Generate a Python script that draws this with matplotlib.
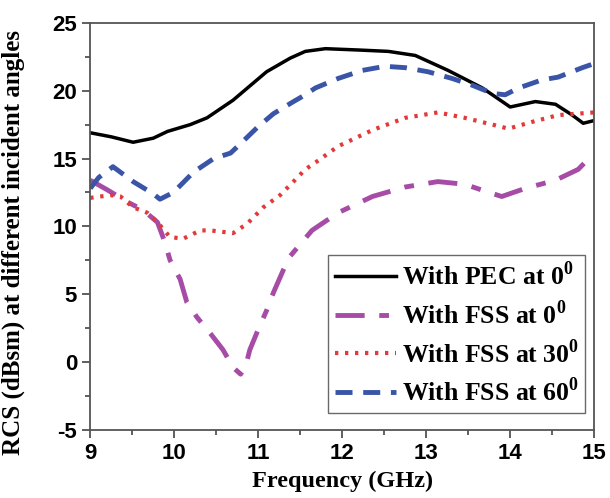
import numpy as np
import matplotlib.pyplot as plt
from matplotlib.ticker import MultipleLocator

plt.rcParams['mathtext.fontset'] = 'custom'
plt.rcParams['mathtext.bf'] = 'Liberation Serif:bold'
plt.rcParams['mathtext.rm'] = 'Liberation Serif:bold'
plt.rcParams['axes.unicode_minus'] = False

# RCS curves read per series (frequency in GHz, RCS in dBsm)
f_pec = [9.0, 9.25, 9.51, 9.75, 9.92, 10.19, 10.39, 10.7, 11.1, 11.38, 11.56, 11.8, 12.2, 12.55,
         12.87, 13.26, 13.67, 14.0, 14.3, 14.54, 14.74, 14.87, 15.0]
rcs_pec = [16.9, 16.6, 16.2, 16.5, 17.0, 17.5, 18.0, 19.3, 21.4, 22.4, 22.9, 23.1, 23.0, 22.9,
           22.6, 21.5, 20.2, 18.8, 19.2, 19.0, 18.2, 17.6, 17.8]

f_fss0 = [9.0, 9.2, 9.44, 9.63, 9.8, 9.89, 9.95, 10.07, 10.15, 10.27, 10.43, 10.58, 10.7, 10.79,
          10.85, 10.9, 11.0, 11.1, 11.18, 11.3, 11.38, 11.64, 11.95, 12.36, 12.75, 13.14, 13.46,
          13.7, 13.9, 14.18, 14.54, 14.81, 15.0]
rcs_fss0 = [13.4, 12.7, 11.8, 11.2, 10.3, 8.8, 7.5, 6.1, 4.4, 3.3, 2.1, 0.9, -0.4, -0.9,
            -0.3, 0.9, 2.4, 3.8, 5.1, 6.8, 7.8, 9.7, 11.0, 12.2, 12.9, 13.3, 13.1,
            12.6, 12.2, 12.8, 13.4, 14.2, 15.4]

f_fss30 = [9.0, 9.24, 9.36, 9.51, 9.68, 9.8, 9.95, 10.11, 10.31, 10.43, 10.7, 10.87, 11.06, 11.26,
           11.42, 11.56, 11.68, 11.95, 12.36, 12.75, 13.14, 13.46, 13.79, 13.98, 14.26, 14.57, 15.0]
rcs_fss30 = [12.1, 12.3, 12.2, 11.4, 11.0, 10.3, 9.2, 9.1, 9.7, 9.7, 9.5, 10.2, 11.4, 12.3,
             13.3, 14.2, 14.7, 15.9, 17.1, 18.0, 18.4, 18.0, 17.5, 17.2, 17.7, 18.2, 18.4]

f_fss60 = [9.0, 9.1, 9.27, 9.51, 9.75, 9.83, 9.99, 10.23, 10.47, 10.67, 10.79, 10.99, 11.18, 11.42,
           11.56, 11.68, 11.95, 12.24, 12.51, 12.75, 13.02, 13.31, 13.55, 13.79, 13.94, 14.1, 14.38,
           14.57, 14.86, 15.0]
rcs_fss60 = [12.8, 13.6, 14.4, 13.3, 12.4, 12.0, 12.5, 14.0, 15.0, 15.4, 16.1, 17.3, 18.3, 19.2,
             19.7, 20.2, 20.9, 21.5, 21.8, 21.7, 21.4, 20.9, 20.4, 19.8, 19.7, 20.2, 20.8,
             21.0, 21.7, 22.0]

fig = plt.figure(figsize=(6.1, 4.98), dpi=100)
ax = fig.add_axes([0.148, 0.137, 0.826, 0.817])

ax.plot(f_pec, rcs_pec, color='black', lw=2.5, label=r'With PEC at 0$^{\mathbf{0}}$')
ax.plot(f_fss0, rcs_fss0, color='#a64ca6', lw=3.5, dashes=(6, 3, 2, 3),
        label=r'With FSS at 0$^{\mathbf{0}}$')
ax.plot(f_fss30, rcs_fss30, color='#e23a3a', lw=3, dashes=(0.8, 1.6),
        label=r'With FSS at 30$^{\mathbf{0}}$')
ax.plot(f_fss60, rcs_fss60, color='#3a55a8', lw=3.5, dashes=(3.5, 2.2),
        label=r'With FSS at 60$^{\mathbf{0}}$')

ax.set_xlim(9, 15)
ax.set_ylim(-5, 25)
ax.xaxis.set_major_locator(MultipleLocator(1))
ax.xaxis.set_minor_locator(MultipleLocator(0.5))
ax.yaxis.set_major_locator(MultipleLocator(5))
ax.yaxis.set_minor_locator(MultipleLocator(2.5))
ax.tick_params(which='both', direction='out', top=False, right=False, width=1.2, color='#444444')
ax.tick_params(which='major', length=6, labelsize=16)
ax.tick_params(which='minor', length=3.5)
for lab in ax.get_xticklabels() + ax.get_yticklabels():
    lab.set_fontweight('bold')
    lab.set_family('Liberation Sans')
for sp in ax.spines.values():
    sp.set_linewidth(1.3)
    sp.set_color('#555555')

ax.set_xlabel('Frequency (GHz)', family='Liberation Serif', fontweight='bold', fontsize=17.5, labelpad=5)
ax.set_ylabel('RCS (dBsm) at different incident angles', family='Liberation Serif',
              fontweight='bold', fontsize=18)
ax.yaxis.set_label_coords(-0.129, 0.46)

leg = ax.legend(loc='lower right', bbox_to_anchor=(1.0 - 9 / 504, 17 / 407), frameon=True,
                fancybox=False, handlelength=2.4, handletextpad=0.2, borderpad=0.25,
                labelspacing=0.4, borderaxespad=0.0,
                prop={'family': 'Liberation Serif', 'weight': 'bold', 'size': 18.5})
leg.get_frame().set_edgecolor('#444444')
leg.get_frame().set_linewidth(1.0)

fig.savefig('out.png', dpi=100)
